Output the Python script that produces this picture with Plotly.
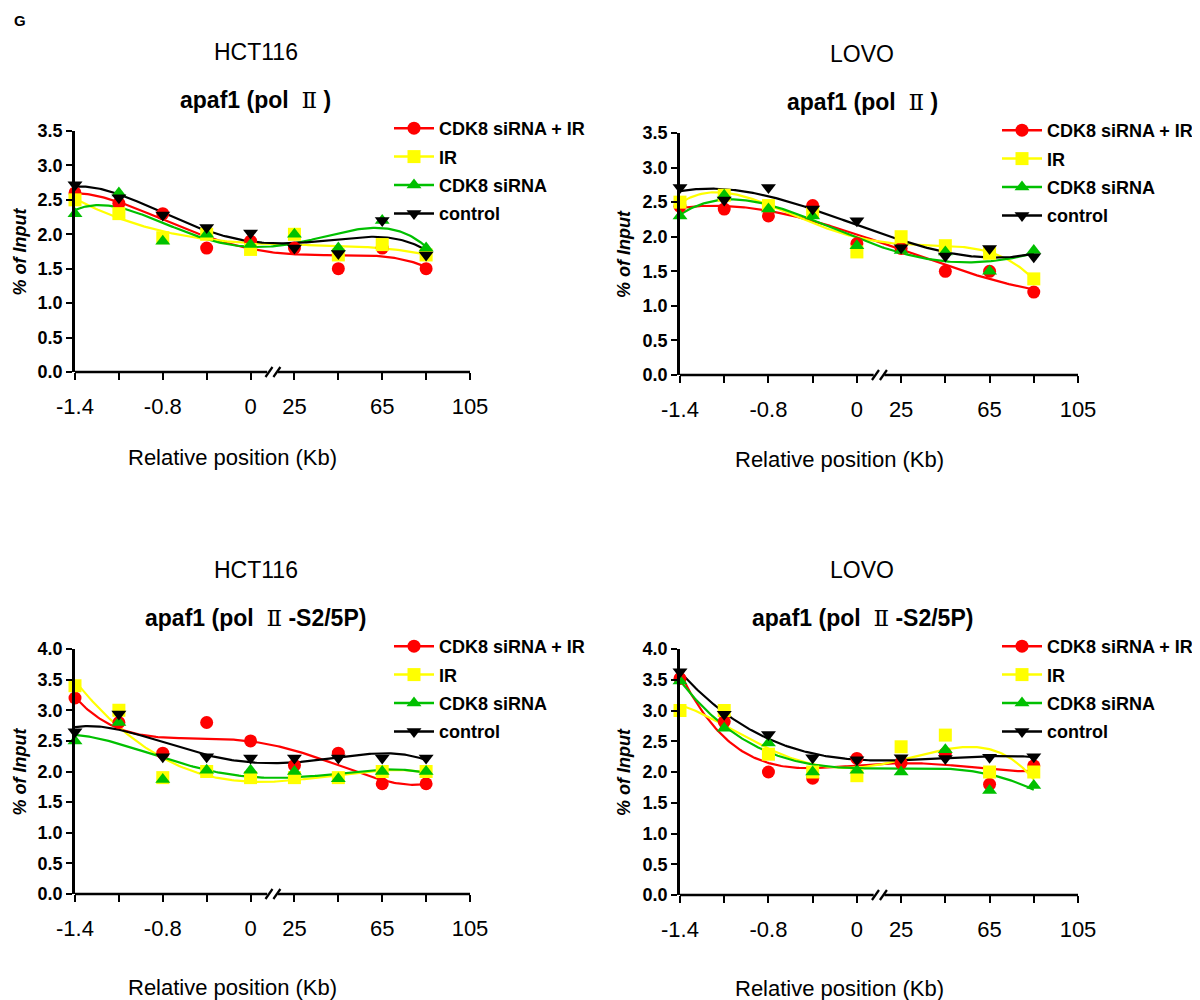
import numpy as np
import plotly.graph_objects as go

# ---------------- data ----------------
positions = ["-1.4", "-1.1", "-0.8", "-0.4", "0", "25", "45", "65", "85"]
axis_ticks = ["-1.4", "", "-0.8", "", "0", "25", "", "65", "", "105"]
series_names = ["CDK8 siRNA + IR", "IR", "CDK8 siRNA", "control"]

# HCT116 apaf1 (pol II)
hct_pol2_cdk8_ir = [2.60, 2.45, 2.30, 1.80, 1.90, 1.80, 1.50, 1.80, 1.50]
hct_pol2_ir = [2.50, 2.30, 1.95, 2.00, 1.78, 2.00, 1.70, 1.85, 1.70]
hct_pol2_cdk8 = [2.30, 2.60, 1.90, 2.00, 1.85, 2.00, 1.80, 2.20, 1.80]
hct_pol2_ctrl = [2.72, 2.53, 2.28, 2.10, 2.02, 1.80, 1.72, 2.20, 1.70]

# LOVO apaf1 (pol II)
lovo_pol2_cdk8_ir = [2.44, 2.40, 2.30, 2.45, 1.90, 1.83, 1.50, 1.50, 1.20]
lovo_pol2_ir = [2.50, 2.60, 2.45, 2.35, 1.78, 2.00, 1.87, 1.76, 1.39]
lovo_pol2_cdk8 = [2.30, 2.60, 2.40, 2.30, 1.87, 1.80, 1.78, 1.50, 1.80]
lovo_pol2_ctrl = [2.71, 2.53, 2.71, 2.40, 2.23, 1.84, 1.72, 1.83, 1.71]

# HCT116 apaf1 (pol II -S2/5P)
hct_s25p_cdk8_ir = [3.20, 2.80, 2.30, 2.80, 2.50, 2.10, 2.30, 1.80, 1.80]
hct_s25p_ir = [3.40, 3.00, 1.90, 2.00, 1.90, 1.90, 1.90, 2.00, 2.00]
hct_s25p_cdk8 = [2.50, 2.80, 1.87, 2.02, 2.02, 2.00, 1.88, 2.00, 2.00]
hct_s25p_ctrl = [2.65, 2.94, 2.24, 2.24, 2.22, 2.22, 2.22, 2.22, 2.22]

# LOVO apaf1 (pol II -S2/5P)
lovo_s25p_cdk8_ir = [3.52, 2.82, 2.00, 1.90, 2.22, 2.15, 2.30, 1.80, 2.10]
lovo_s25p_ir = [3.00, 3.00, 2.29, 2.00, 1.94, 2.41, 2.60, 2.00, 2.00]
lovo_s25p_cdk8 = [3.48, 2.71, 2.47, 2.00, 2.03, 2.00, 2.36, 1.70, 1.78]
lovo_s25p_ctrl = [3.63, 2.94, 2.61, 2.23, 2.20, 2.23, 2.22, 2.24, 2.25]

ROMAN = "<span style='font-family:\"DejaVu Serif\";font-weight:normal'>Ⅱ</span>"
panels = [
    dict(cell="HCT116", gene="apaf1 (pol  " + ROMAN + " )", ymax=3.5,
         data=[hct_pol2_cdk8_ir, hct_pol2_ir, hct_pol2_cdk8, hct_pol2_ctrl]),
    dict(cell="LOVO", gene="apaf1 (pol  " + ROMAN + " )", ymax=3.5,
         data=[lovo_pol2_cdk8_ir, lovo_pol2_ir, lovo_pol2_cdk8, lovo_pol2_ctrl]),
    dict(cell="HCT116", gene="apaf1 (pol  " + ROMAN + " -S2/5P)", ymax=4.0,
         data=[hct_s25p_cdk8_ir, hct_s25p_ir, hct_s25p_cdk8, hct_s25p_ctrl]),
    dict(cell="LOVO", gene="apaf1 (pol  " + ROMAN + " -S2/5P)", ymax=4.0,
         data=[lovo_s25p_cdk8_ir, lovo_s25p_ir, lovo_s25p_cdk8, lovo_s25p_ctrl]),
]

# ---------------- styling ----------------
colors = ["#ff0000", "#ffff00", "#00c000", "#000000"]
symbols = ["circle", "square", "triangle-up", "triangle-down"]
FONT = "Liberation Sans, Arial, sans-serif"

W, H = 1200, 1000
OFF = 8  # page body margin of the browser


def fx(px):
    return (px - OFF) / W


def fy(py):
    return 1 - (py - OFF) / H


# target page-pixel layout of plot areas: (x_left, x_right, y_top, y_bottom)
boxes = [
    (75, 470, 131, 372),
    (680, 1078, 133, 375),
    (75, 470, 649, 894),
    (680, 1078, 649, 895),
]
xtitle_gap = [85, 85, 93, 93]

fig = go.Figure()
xi = np.arange(len(positions))
xfine = np.linspace(0, len(positions) - 1, 200)

annotations = []
shapes = []
for p, (panel, box) in enumerate(zip(panels, boxes)):
    n = "" if p == 0 else str(p + 1)
    xa, ya = "x" + n, "y" + n
    xl, xr, yt, yb = box
    legname = "legend" + n

    # fitted curves
    for s, vals in enumerate(panel["data"]):
        coef = np.polyfit(xi, np.array(vals), 4)
        fig.add_trace(go.Scatter(
            x=xfine, y=np.polyval(coef, xfine), mode="lines",
            line=dict(color=colors[s], width=2.2), xaxis=xa, yaxis=ya,
            showlegend=False, hoverinfo="skip"))
    # markers
    for s, vals in enumerate(panel["data"]):
        fig.add_trace(go.Scatter(
            x=xi, y=vals, mode="markers", cliponaxis=False,
            marker=dict(color=colors[s], symbol=symbols[s], size=13, line=dict(width=0)),
            xaxis=xa, yaxis=ya, showlegend=False, name=series_names[s]))
    # legend entries
    for s in range(4):
        fig.add_trace(go.Scatter(
            x=[None], y=[None], mode="lines+markers", name="<b>" + series_names[s] + "</b>",
            line=dict(color=colors[s], width=2.5),
            marker=dict(color=colors[s], symbol=symbols[s], size=13),
            xaxis=xa, yaxis=ya, legend=legname, legendgroup=f"g{p}_{s}"))

    xdom = [fx(xl), fx(xr)]
    ydom = [fy(yb), fy(yt)]
    fig.update_layout(**{
        "xaxis" + n: dict(
            domain=xdom, range=[0, len(axis_ticks) - 1], anchor=ya, automargin=False,
            tickmode="array", tickvals=list(range(len(axis_ticks))), ticktext=axis_ticks,
            ticks="outside", ticklen=7, tickwidth=2, tickcolor="black",
            showline=False, showgrid=False, zeroline=False,
            tickfont=dict(family=FONT, size=22, color="black"),
            ticklabelstandoff=8),
        "yaxis" + n: dict(
            domain=ydom, range=[0, panel["ymax"]], anchor=xa, automargin=False,
            tickmode="linear", tick0=0, dtick=0.5, tickformat=".1f",
            ticks="outside", ticklen=6, tickwidth=2, tickcolor="black",
            showline=True, linewidth=2.5, linecolor="black",
            showgrid=False, zeroline=False,
            tickfont=dict(family=FONT, size=18, color="black", weight="bold")),
        legname: dict(
            x=fx(xr - 81), y=fy(yt - 21), xanchor="left", yanchor="top",
            bgcolor="rgba(0,0,0,0)", tracegroupgap=2,
            font=dict(family=FONT, size=18, color="black"),
            itemwidth=40),
    })

    # broken x axis line with // marks
    unit = (xr - xl) / (len(axis_ticks) - 1)
    gap_l, gap_r = 4.38, 4.62
    shapes.append(dict(type="line", xref=xa, yref=ya + " domain", x0=0, x1=gap_l,
                       y0=0, y1=0, line=dict(color="black", width=2.5)))
    shapes.append(dict(type="line", xref=xa, yref=ya + " domain", x0=gap_r, x1=9,
                       y0=0, y1=0, line=dict(color="black", width=2.5)))
    dh = 5.0 / (yb - yt)
    for cx in (4.42, 4.6):
        shapes.append(dict(type="line", xref=xa, yref=ya + " domain",
                           x0=cx - 3.5 / unit, x1=cx + 3.5 / unit, y0=-dh, y1=dh,
                           line=dict(color="black", width=2.2)))

    cx_title = (xl + xr) / 2 - 17
    annotations.append(dict(text=panel["cell"], x=fx(cx_title), y=fy(yt - 79),
                            xref="paper", yref="paper", showarrow=False,
                            xanchor="center", yanchor="middle",
                            font=dict(family=FONT, size=23, color="black")))
    annotations.append(dict(text="<b>" + panel["gene"] + "</b>", x=fx(cx_title),
                            y=fy(yt - 31), xref="paper", yref="paper",
                            showarrow=False, xanchor="center", yanchor="middle",
                            font=dict(family=FONT, size=23, color="black")))
    annotations.append(dict(text="Relative position (Kb)", x=fx((xl + xr) / 2 - 40),
                            y=fy(yb + xtitle_gap[p]), xref="paper", yref="paper",
                            showarrow=False, xanchor="center", yanchor="middle",
                            font=dict(family=FONT, size=22, color="black")))
    annotations.append(dict(text="<b><i>% of Input</i></b>", x=fx(xl - 56),
                            y=fy((yt + yb) / 2), xref="paper", yref="paper",
                            showarrow=False, xanchor="center", yanchor="middle",
                            textangle=-90,
                            font=dict(family=FONT, size=18, color="black")))

annotations.append(dict(text="<b>G</b>", x=fx(12), y=fy(20), xref="paper", yref="paper",
                        showarrow=False, xanchor="left", yanchor="middle",
                        font=dict(family=FONT, size=15, color="black")))

fig.update_layout(
    width=W, height=H, margin=dict(l=0, r=0, t=0, b=0, autoexpand=False),
    paper_bgcolor="white", plot_bgcolor="white",
    annotations=annotations, shapes=shapes,
    font=dict(family=FONT, color="black"),
)

fig.write_html("out.html")
